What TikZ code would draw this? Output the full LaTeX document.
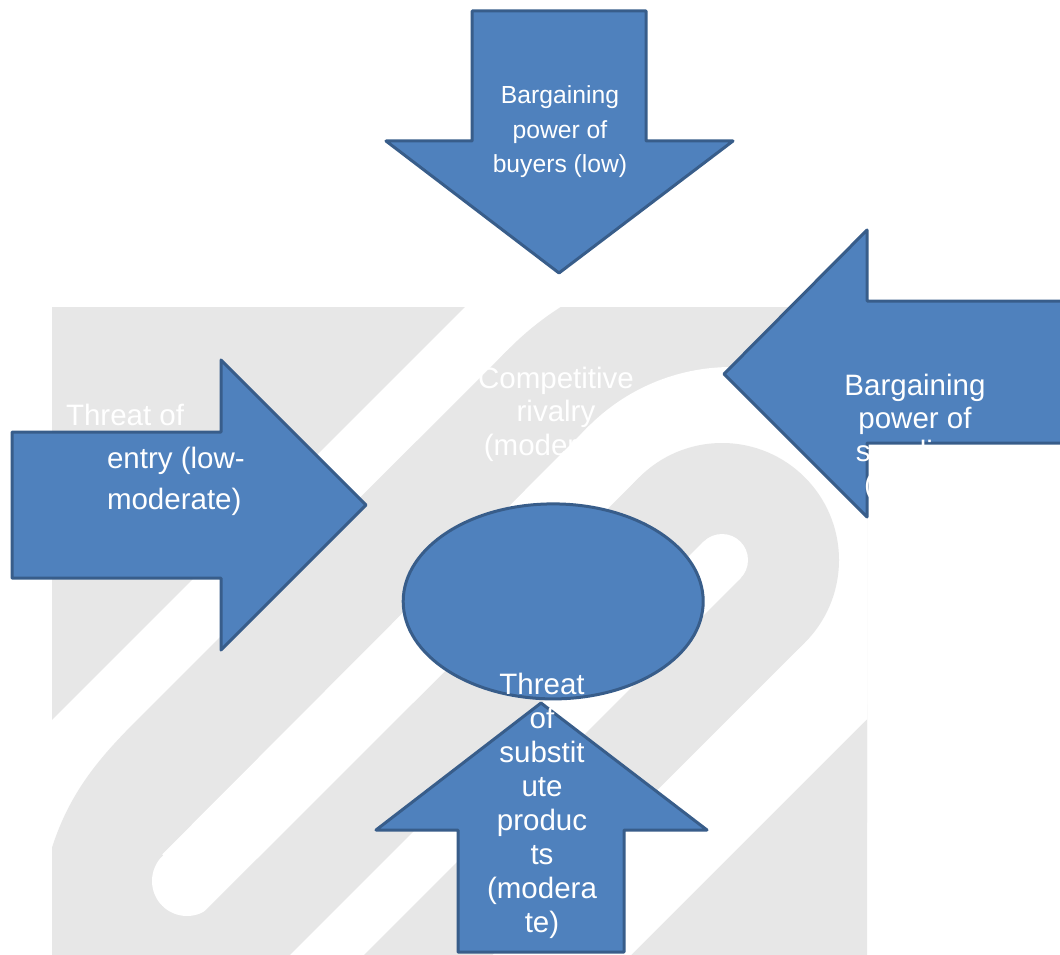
\documentclass[tikz,border=0pt]{standalone}
\usepackage{fontspec}
\setmainfont{Liberation Sans}
\definecolor{forcefill}{RGB}{79,129,189}
\definecolor{forceline}{RGB}{56,93,138}
\definecolor{wmgrey}{RGB}{231,231,231}
\tikzset{
  forcearrow/.style={fill=forcefill, draw=forceline, line width=3pt, line join=round},
  wmg/.style={fill=wmgrey},
  wmw/.style={fill=white},
  lbl/.style={text=white, inner sep=0pt, outer sep=0pt},
}
\begin{document}
\begin{tikzpicture}[x=1pt,y=-1pt]
\useasboundingbox (0,0) rectangle (1060,955);
\clip (0,0) rectangle (1060,955);
% watermark (paperclip logo)
\begin{scope}
\clip (52,307) rectangle (867,960);
\fill[wmg] (52,307) rectangle (867,960);
\fill[wmw] (465,307) -- (-200,972) -- (1100,972) -- (1100,307) -- cycle;
\fill[wmg] (722,560) circle[radius=300];
\fill[wmg] (510,348) -- (1100,937) -- (1100,1100) -- (0,1100) -- (0,1000) -- (40,900) .. controls (55,800) and (100,757) .. (150,707) -- cycle;
\fill[wmw] (731.6,569) circle[radius=202];
\fill[wmw] (588.8,426.2) -- (874.4,711.8) -- (486,1100) -- (200,1100) -- (211.7,903.7) -- (162.3,854.3) -- cycle;
\fill[wmw] (187,881) circle[radius=35];
\fill[wmg] (722,560) circle[radius=117];
\fill[wmg] (639.3,477.3) -- (804.7,642.7) -- (347.4,1100) -- (15.6,1100) -- cycle;
\fill[wmw] (722,560) circle[radius=26];
\fill[wmw] (703.6,541.6) -- (740.4,578.4) -- (218.8,1100) -- (145.2,1100) -- cycle;
\end{scope}
% forces
\draw[forcearrow] (472,11) -- (646,11) -- (646,141) -- (733,141) -- (559,273) -- (386,141) -- (472,141) -- cycle;
\draw[forcearrow] (12,432) -- (221,432) -- (221,360) -- (366,505) -- (221,650) -- (221,578) -- (12,578) -- cycle;
\draw[forcearrow] (1080,301) -- (867,301) -- (867,230) -- (724,374) -- (867,517) -- (867,443) -- (1080,443) -- cycle;
\draw[forcearrow] (553.2,601.4) ellipse[x radius=150, y radius=97.5];
\draw[forcearrow] (458,952) -- (458,830) -- (376,830) -- (541,703) -- (707,830) -- (624,830) -- (624,952) -- cycle;
% labels
\node[lbl, anchor=base] (buyers) at (560,104) {\parbox[t]{220pt}{\centering\fontsize{24.7}{34.5}\selectfont Bargaining\\power of\\buyers (low)}};
\node[lbl, anchor=base] (rivalry) at (556,388) {\parbox[t]{220pt}{\centering\fontsize{29.5}{33.5}\selectfont Competitive\\rivalry\\(moderate)}};
\node[lbl, anchor=base west] (entryA) at (66,425.5) {\fontsize{29.5}{34}\selectfont Threat of};
\node[lbl, anchor=base west] (entryB) at (107,468.5) {\parbox[t]{200pt}{\raggedright\fontsize{29.5}{40.5}\selectfont entry (low-\\moderate)}};
\node[lbl, anchor=base] (suppliers) at (915,395.5) {\parbox[t]{220pt}{\centering\fontsize{29.5}{33}\selectfont Bargaining\\power of\\suppliers\\(strong)}};
\node[lbl, anchor=base] (substitutes) at (542,694) {\parbox[t]{160pt}{\centering\fontsize{29.5}{34}\selectfont Threat\\of\\substit\\ute\\produc\\ts\\(modera\\te)}};
\end{tikzpicture}
\end{document}
